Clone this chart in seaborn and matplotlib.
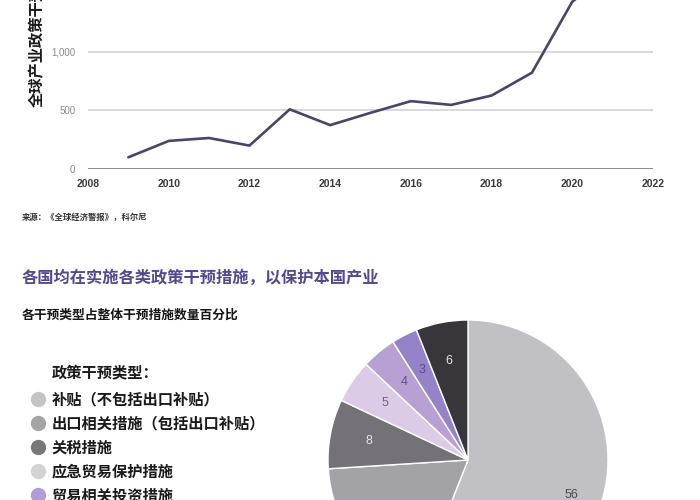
import numpy as np
import pandas as pd
import matplotlib.pyplot as plt
import seaborn as sns
from matplotlib.lines import Line2D

# line chart data
years = [2009, 2010, 2011, 2012, 2013, 2014, 2015, 2016, 2017, 2018, 2019, 2020, 2021]
interventions = [100, 240, 265, 200, 510, 375, 480, 580, 548, 628, 823, 1430, 1700]
year_ticks = [2008, 2010, 2012, 2014, 2016, 2018, 2020, 2022]
value_ticks = [0, 500, 1000, 1500]

# pie data
pie_labels = ['补贴（不包括出口补贴）', '出口相关措施（包括出口补贴）', '关税措施',
              '应急贸易保护措施', '贸易相关投资措施', '公共采购', '其他']
pie_values = [56, 18, 8, 5, 4, 3, 6]
pie_colors = ['#c1c0c4', '#a3a2a6', '#747278', '#dccbe6', '#b8a0d4', '#9483c9', '#38353b']
pie_text_colors = ['#4a4a4a', '#3a3a3a', '#e6e6e6', '#6f6290', '#5f4f88', '#5a4a9a', '#e6e6e6']
legend_colors = ['#c4c4c4', '#a5a5a5', '#787878', '#d3d3d3', '#b39ad8', '#9483c9', '#38353b']

sns.set_theme(style='white')
plt.rcParams['font.family'] = ['Noto Sans CJK SC', 'DejaVu Sans']

W, H = 700, 500
fig = plt.figure(figsize=(7, 5), dpi=100)
fig.patch.set_facecolor('white')

# 1. line chart (top, cut off by the frame)
ax = fig.add_axes([88 / W, (H - 169) / H, 565 / W, 234 / H])
df = pd.DataFrame({'year': years, 'count': interventions})
sns.lineplot(data=df, x='year', y='count', color='#4a4468', lw=1.9, ax=ax)
ax.set_xlim(2008, 2022)
ax.set_ylim(0, 2000)
ax.set_xticks(year_ticks)
ax.set_yticks(value_ticks)
ax.set_yticklabels([f'{v:,}' for v in value_ticks])
ax.grid(axis='y', color='#d2d2d2', lw=1.2)
ax.grid(axis='x', visible=False)
ax.axhline(0, color='#8c8c8c', lw=1.4)
sns.despine(ax=ax, left=True, bottom=True)
ax.tick_params(axis='x', length=0, pad=7, labelsize=7.5, labelcolor='#3a3a3a')
ax.tick_params(axis='y', length=0, pad=9, labelsize=7, labelcolor='#8a8a8a')
for t in ax.get_xticklabels():
    t.set_fontweight('bold')
    t.set_family('Liberation Sans')
for t in ax.get_yticklabels():
    t.set_family('Liberation Sans')
ax.set_xlabel('')
ax.set_ylabel('')
fig.text(37 / W, 1 - 107 / H, '全球产业政策干预措施数量', rotation=90, ha='center', va='bottom',
         fontsize=11, fontweight='bold', color='#1a1a1a')

fig.text(22 / W, 1 - 217 / H, '来源：《全球经济警报》，科尔尼', fontsize=6, va='center',
         fontweight='bold', color='#333333')

# 2. title block
fig.text(22 / W, 1 - 278 / H, '各国均在实施各类政策干预措施，以保护本国产业', fontsize=11.7,
         fontweight='bold', color='#54478f', va='center')
fig.text(22 / W, 1 - 315 / H, '各干预类型占整体干预措施数量百分比', fontsize=9.2,
         fontweight='bold', color='#151515', va='center')

# 3. pie (bottom right, cut off)
pax = fig.add_axes([328 / W, (H - 600) / H, 280 / W, 280 / H])
wedges, texts = pax.pie(pie_values, colors=pie_colors, startangle=90, counterclock=False,
                        labels=[str(v) for v in pie_values], labeldistance=0.72,
                        textprops={'fontsize': 9, 'family': 'Liberation Sans'})
for t, c in zip(texts, pie_text_colors):
    t.set_color(c)
    t.set_ha('center')
    t.set_va('center')
texts[0].set_position((0.74, -0.25))
pax.set_xlim(-1, 1)
pax.set_ylim(-1, 1)

# legend
fig.text(52 / W, 1 - 372 / H, '政策干预类型：', fontsize=11, fontweight='bold',
         color='#1a1a1a', va='center')
handles = [Line2D([], [], marker='o', ls='', markersize=10, markerfacecolor=c,
                  markeredgecolor=c) for c in legend_colors]
leg = fig.legend(handles, pie_labels, loc='upper left', bbox_to_anchor=(30 / W, 1 - 391 / H),
                 frameon=False, prop={'size': 11, 'weight': 'bold'}, handlelength=1.0,
                 handletextpad=0.4, labelspacing=0.53, borderpad=0, borderaxespad=0)
for t in leg.get_texts():
    t.set_color('#1a1a1a')

fig.savefig('out.png', dpi=100)
